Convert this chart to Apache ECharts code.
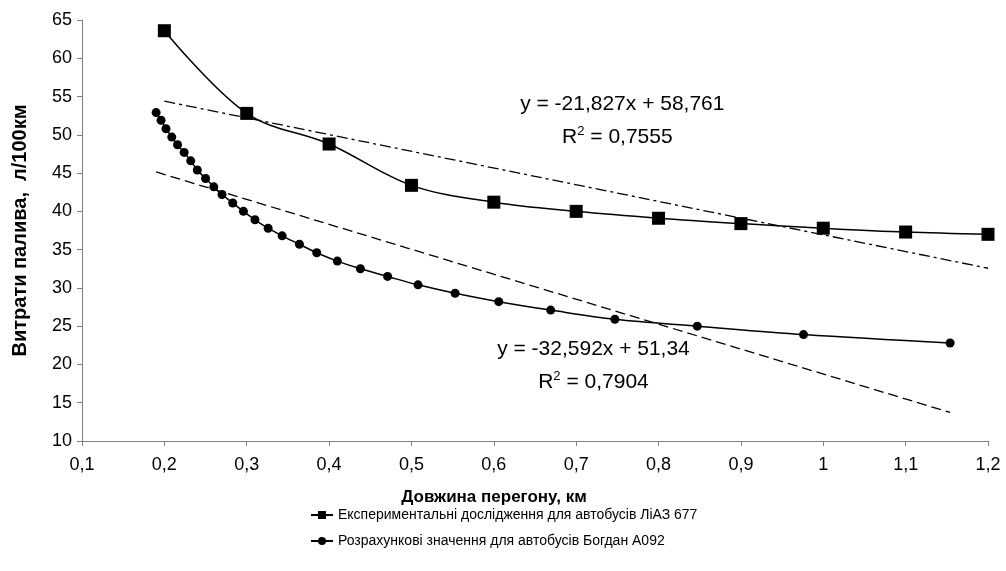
<!DOCTYPE html>
<html>
<head>
<meta charset="utf-8">
<script src="https://cdn.jsdelivr.net/npm/echarts@6/dist/echarts.min.js"></script>
<style>
  html, body { margin: 0; padding: 0; background: #fff; }
  #chart { width: 1006px; height: 571px; }
</style>
</head>
<body>
<div id="chart"></div>
<script>
// Measured fuel consumption (ЛіАЗ 677)
const liazX = [0.2, 0.3, 0.4, 0.5, 0.6, 0.7, 0.8, 0.9, 1.0, 1.1, 1.2];
const liazY = [63.6, 52.8, 48.8, 43.4, 41.2, 40.0, 39.1, 38.4, 37.8, 37.3, 37.0];

// Calculated values (Богдан А092)
const bogdanX = [0.190, 0.196, 0.202, 0.209, 0.216, 0.224, 0.232, 0.240, 0.250, 0.260,
                 0.270, 0.283, 0.296, 0.310, 0.326, 0.343, 0.364, 0.385, 0.410, 0.438,
                 0.471, 0.508, 0.553, 0.606, 0.669, 0.747, 0.847, 0.976, 1.154];
const bogdanY = [52.9, 51.9, 50.8, 49.7, 48.7, 47.7, 46.6, 45.4, 44.3, 43.2,
                 42.2, 41.1, 40.0, 38.9, 37.8, 36.8, 35.7, 34.6, 33.5, 32.5,
                 31.5, 30.4, 29.3, 28.2, 27.1, 25.9, 25.0, 23.9, 22.8];

// Linear trend coefficients: [slope, intercept, R²]
const liazTrend = [-21.827, 58.761, 0.7555];
const bogdanTrend = [-32.592, 51.34, 0.7904];

const xTicks = { min: 0.1, max: 1.2, interval: 0.1 };
const yTicks = { min: 10, max: 65, interval: 5 };

const seriesNames = [
  'Експериментальні дослідження для автобусів ЛіАЗ 677',
  'Розрахункові значення для автобусів Богдан А092'
];
const xTitle = 'Довжина перегону, км';
const yTitle = 'Витрати палива,  л/100км';

const fmt = (v, d) => v.toFixed(d).replace('.', ',');
const pairs = (xs, ys) => xs.map((x, i) => [x, ys[i]]);
const trendLine = (xs, c) => {
  const a = Math.min(...xs), b = Math.max(...xs);
  return [[a, c[0] * a + c[1]], [b, c[0] * b + c[1]]];
};
const eqText = (c, d) => 'y = ' + fmt(c[0], 3) + 'x + ' + fmt(c[1], d);

const FONT = 'Liberation Sans, Arial, sans-serif';
const chart = echarts.init(document.getElementById('chart'), null, { renderer: 'canvas' });

chart.setOption({
  animation: false,
  backgroundColor: '#fff',
  textStyle: { fontFamily: FONT, color: '#000' },
  grid: { left: 82, right: 18, top: 20, bottom: 130, containLabel: false },
  xAxis: {
    type: 'value', min: xTicks.min, max: xTicks.max, interval: xTicks.interval,
    name: xTitle, nameLocation: 'middle', nameGap: 48,
    nameTextStyle: { fontFamily: FONT, fontWeight: 'bold', fontSize: 17, color: '#000',
                     padding: [0, 82, 0, 0] },
    axisLine: { lineStyle: { color: '#808080', width: 1 } },
    axisTick: { show: true, length: 5, lineStyle: { color: '#808080' } },
    axisLabel: { fontFamily: FONT, fontSize: 18, color: '#000', margin: 15,
      formatter: v => String(Math.round(v * 10) / 10).replace('.', ',') },
    splitLine: { show: false }
  },
  yAxis: {
    type: 'value', min: yTicks.min, max: yTicks.max, interval: yTicks.interval,
    name: yTitle, nameLocation: 'middle', nameGap: 52, nameRotate: 90,
    nameTextStyle: { fontFamily: FONT, fontWeight: 'bold', fontSize: 20, color: '#000' },
    axisLine: { show: true, lineStyle: { color: '#808080', width: 1 } },
    axisTick: { show: true, length: 5, lineStyle: { color: '#808080' } },
    axisLabel: { fontFamily: FONT, fontSize: 18, color: '#000', margin: 10 },
    splitLine: { show: false }
  },
  legend: {
    orient: 'vertical', left: 305, top: 503, itemGap: 12,
    itemWidth: 22, itemHeight: 10,
    textStyle: { fontFamily: FONT, fontSize: 14, color: '#000' },
    data: seriesNames
  },
  series: [
    {
      name: seriesNames[0], type: 'line', smooth: 0.35,
      data: pairs(liazX, liazY),
      symbol: 'rect', symbolSize: 13,
      itemStyle: { color: '#000' },
      lineStyle: { color: '#000', width: 1.5 }
    },
    {
      name: seriesNames[1], type: 'line', smooth: 0.35,
      data: pairs(bogdanX, bogdanY),
      symbol: 'circle', symbolSize: 9,
      itemStyle: { color: '#000' },
      lineStyle: { color: '#000', width: 1.5 }
    },
    {
      name: 'trend-liaz', type: 'line', data: trendLine(liazX, liazTrend),
      symbol: 'none', silent: true,
      lineStyle: { color: '#000', width: 1.3, type: [11, 4, 3, 4] }
    },
    {
      name: 'trend-bogdan', type: 'line', data: trendLine(bogdanX, bogdanTrend),
      symbol: 'none', silent: true,
      lineStyle: { color: '#000', width: 1.3, type: [10, 5] }
    }
  ]
});

// Trend equation labels anchored in data coordinates
function label(pt, text, size) {
  const p = chart.convertToPixel({ gridIndex: 0 }, pt);
  return {
    type: 'text', x: p[0], y: p[1],
    style: {
      text: text, fill: '#000', font: size + 'px ' + FONT,
      align: 'center', verticalAlign: 'middle',
      rich: { sup: { fontSize: Math.round(size * 0.62), fontFamily: FONT,
                     padding: [0, 0, Math.round(size * 0.5), 0] },
              n: { fontSize: size, fontFamily: FONT } }
    }
  };
}
chart.setOption({
  graphic: [
    label([0.756, 54.0], eqText(liazTrend, 3), 21),
    label([0.750, 49.7], '{n|R}{sup|2}{n| = ' + fmt(liazTrend[2], 4) + '}', 21),
    label([0.721, 22.0], eqText(bogdanTrend, 2), 21),
    label([0.721, 17.7], '{n|R}{sup|2}{n| = ' + fmt(bogdanTrend[2], 4) + '}', 21)
  ]
});
</script>
</body>
</html>
